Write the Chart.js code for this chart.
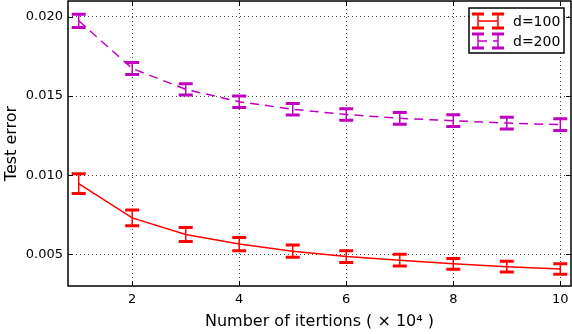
<!DOCTYPE html>
<html>
<head>
<meta charset="utf-8">
<title>Test error vs iterations</title>
<script src="https://cdn.jsdelivr.net/npm/chart.js"></script>
<style>
  body { margin: 0; background: #fff; }
</style>
</head>
<body>
<canvas id="chart" width="572" height="334"></canvas>
<script>
// data
const iterations = [1, 2, 3, 4, 5, 6, 7, 8, 9, 10];
const d100Mean = [0.00947, 0.0073, 0.00625, 0.00565, 0.0052, 0.00486, 0.00463, 0.0044, 0.00422, 0.00408];
const d100Err = [0.00062, 0.0005, 0.00044, 0.00042, 0.00039, 0.00037, 0.00037, 0.00034, 0.00034, 0.00033];
const d200Mean = [0.01975, 0.01674, 0.01542, 0.01464, 0.01416, 0.01383, 0.01359, 0.01344, 0.01329, 0.01319];
const d200Err = [0.00042, 0.00038, 0.00036, 0.00036, 0.00036, 0.00036, 0.00037, 0.00037, 0.00037, 0.00037];
const xTicks = [2, 4, 6, 8, 10];
const yTicks = [0.005, 0.010, 0.015, 0.020];
const seriesLabels = ["d=100", "d=200"];

const FONT = "DejaVu Sans";
const RED = "#ff0000";
const MAGENTA = "#bf00bf";

function errorBar(ctx, px, top, bot, half) {
  ctx.lineWidth = 1.5;
  ctx.beginPath();
  ctx.moveTo(px, top);
  ctx.lineTo(px, bot);
  ctx.stroke();
  ctx.lineWidth = 3;
  ctx.beginPath();
  ctx.moveTo(px - half, top);
  ctx.lineTo(px + half, top);
  ctx.moveTo(px - half, bot);
  ctx.lineTo(px + half, bot);
  ctx.stroke();
}

const errorBars = {
  id: "errorBars",
  afterDatasetsDraw(chart) {
    const { ctx, scales: { x, y } } = chart;
    chart.data.datasets.forEach((ds) => {
      ctx.save();
      ctx.strokeStyle = ds.borderColor;
      ctx.setLineDash([]);
      ds.data.forEach((p, i) => {
        const px = x.getPixelForValue(p.x);
        const top = y.getPixelForValue(p.y + ds.errors[i]);
        const bot = y.getPixelForValue(p.y - ds.errors[i]);
        errorBar(ctx, px, top, bot, 7);
      });
      ctx.restore();
    });
  },
};

// full box, inward ticks, legend in the top right corner
const frame = {
  id: "frame",
  afterDraw(chart) {
    const { ctx, chartArea: a, scales: { x, y } } = chart;
    ctx.save();
    ctx.strokeStyle = "#000";
    ctx.lineWidth = 1;
    ctx.beginPath();
    xTicks.forEach((v) => {
      const px = Math.round(x.getPixelForValue(v)) + 0.5;
      ctx.moveTo(px, a.bottom); ctx.lineTo(px, a.bottom - 5);
      ctx.moveTo(px, a.top); ctx.lineTo(px, a.top + 5);
    });
    yTicks.forEach((v) => {
      const py = Math.round(y.getPixelForValue(v)) + 0.5;
      ctx.moveTo(a.left, py); ctx.lineTo(a.left + 5, py);
      ctx.moveTo(a.right, py); ctx.lineTo(a.right - 5, py);
    });
    ctx.stroke();
    ctx.lineWidth = 1.5;
    ctx.strokeRect(a.left, a.top, a.right - a.left, a.bottom - a.top);

    // legend
    const lx = 469, ly = 8, lw = 95, lh = 45;
    ctx.fillStyle = "#fff";
    ctx.fillRect(lx, ly, lw, lh);
    ctx.lineWidth = 1.5;
    ctx.strokeStyle = "#000";
    ctx.strokeRect(lx, ly, lw, lh);
    chart.data.datasets.forEach((ds, i) => {
      const cy = ly + 13 + i * 20;
      ctx.strokeStyle = ds.borderColor;
      ctx.lineWidth = 1.5;
      ctx.setLineDash(ds.borderDash || []);
      ctx.beginPath();
      ctx.moveTo(478, cy);
      ctx.lineTo(498, cy);
      ctx.stroke();
      ctx.setLineDash([]);
      errorBar(ctx, 478, cy - 7, cy + 7, 6);
      errorBar(ctx, 498, cy - 7, cy + 7, 6);
      ctx.fillStyle = "#000";
      ctx.font = "14px '" + FONT + "'";
      ctx.textBaseline = "middle";
      ctx.textAlign = "left";
      ctx.fillText(seriesLabels[i], 513, cy + 1);
    });
    ctx.restore();
  },
};

new Chart(document.getElementById("chart"), {
  type: "line",
  data: {
    datasets: [
      {
        label: seriesLabels[0],
        data: d100Mean.map((v, i) => ({ x: iterations[i], y: v })),
        errors: d100Err,
        borderColor: RED,
        borderWidth: 1.5,
        pointRadius: 0,
        tension: 0,
        fill: false,
      },
      {
        label: seriesLabels[1],
        data: d200Mean.map((v, i) => ({ x: iterations[i], y: v })),
        errors: d200Err,
        borderColor: MAGENTA,
        borderWidth: 1.5,
        borderDash: [9, 6],
        pointRadius: 0,
        tension: 0,
        fill: false,
      },
    ],
  },
  options: {
    responsive: false,
    animation: false,
    layout: { padding: { top: 1, right: 1, left: 0, bottom: 0 } },
    plugins: { legend: { display: false }, tooltip: { enabled: false } },
    scales: {
      x: {
        type: "linear",
        min: 0.8,
        max: 10.2,
        afterBuildTicks: (axis) => { axis.ticks = xTicks.map((v) => ({ value: v })); },
        afterFit: (axis) => {
          axis.height = 48;
          axis.paddingLeft = 0;
          axis.paddingRight = 0;
        },
        grid: { color: "#444", lineWidth: 1, drawTicks: false },
        border: { display: false, dash: [1, 3] },
        ticks: { color: "#000", font: { family: FONT, size: 13 }, padding: 6, maxRotation: 0 },
        title: {
          display: true,
          text: "Number of itertions ( × 10⁴ )",
          color: "#000",
          font: { family: FONT, size: 16 },
          padding: { top: 2, bottom: 3 },
        },
      },
      y: {
        min: 0.003,
        max: 0.021,
        afterBuildTicks: (axis) => { axis.ticks = yTicks.map((v) => ({ value: v })); },
        afterFit: (axis) => {
          axis.width = 68;
          axis.paddingTop = 0;
          axis.paddingBottom = 0;
        },
        grid: { color: "#444", lineWidth: 1, drawTicks: false },
        border: { display: false, dash: [1, 3] },
        ticks: {
          color: "#000",
          font: { family: FONT, size: 13 },
          padding: 5,
          callback: (v) => v.toFixed(3),
        },
        title: {
          display: true,
          text: "Test error",
          color: "#000",
          font: { family: FONT, size: 16 },
          padding: { top: 2, bottom: 0 },
        },
      },
    },
  },
  plugins: [errorBars, frame],
});
</script>
</body>
</html>
